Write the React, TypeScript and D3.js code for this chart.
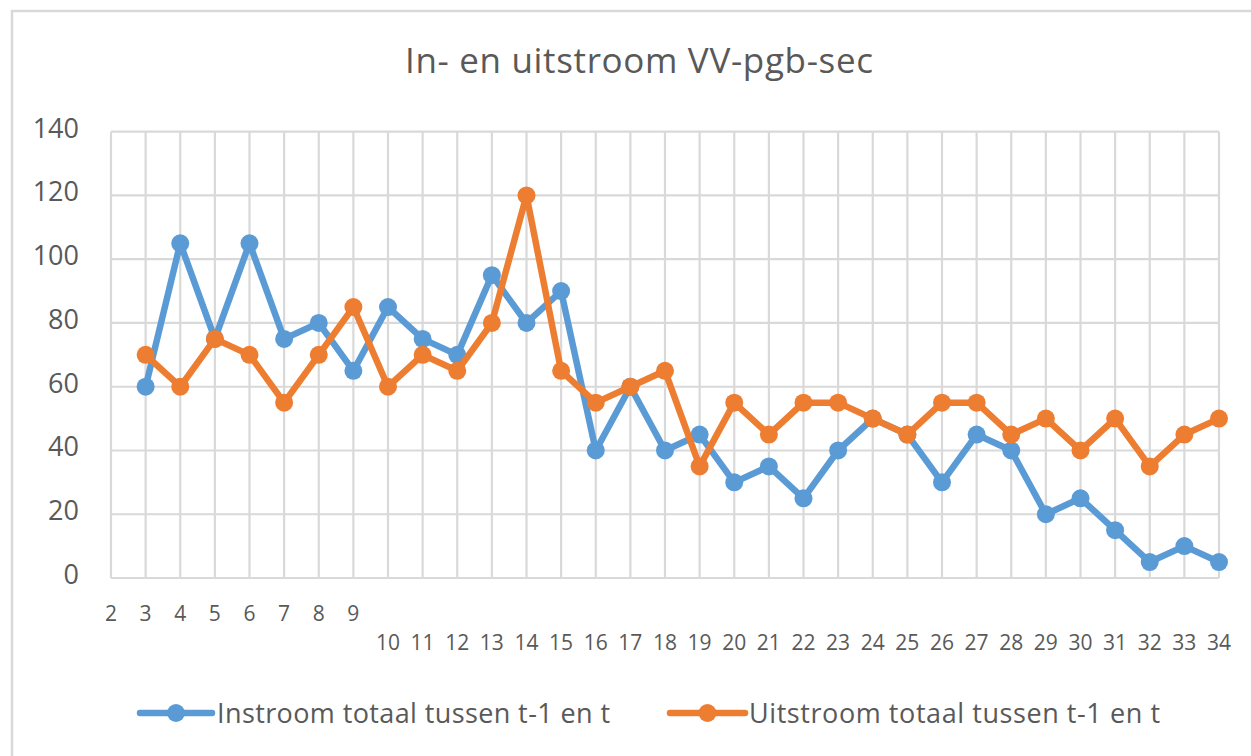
import React, { useEffect, useRef } from 'react';
import * as d3 from 'd3';

// category labels on the x axis (weeks)
const categories = [
  '2', '3', '4', '5', '6', '7', '8', '9', '10', '11', '12', '13', '14', '15', '16', '17', '18',
  '19', '20', '21', '22', '23', '24', '25', '26', '27', '28', '29', '30', '31', '32', '33', '34',
];

// week 2 has no value
const instroom: (number | null)[] = [
  null, 60, 105, 75, 105, 75, 80, 65, 85, 75, 70, 95, 80, 90, 40, 60, 40,
  45, 30, 35, 25, 40, 50, 45, 30, 45, 40, 20, 25, 15, 5, 10, 5,
];

const uitstroom: (number | null)[] = [
  null, 70, 60, 75, 70, 55, 70, 85, 60, 70, 65, 80, 120, 65, 55, 60, 65,
  35, 55, 45, 55, 55, 50, 45, 55, 55, 45, 50, 40, 50, 35, 45, 50,
];

const yTicks = [0, 20, 40, 60, 80, 100, 120, 140];

const seriesNames = ['Instroom totaal tussen t-1 en t', 'Uitstroom totaal tussen t-1 en t'];
const seriesColors = ['#5B9BD5', '#ED7D31'];

const title = 'In- en uitstroom VV-pgb-sec';

const W = 1251;
const H = 756;

const App: React.FC = () => {
  const ref = useRef<SVGSVGElement>(null);

  useEffect(() => {
    const svg = d3.select(ref.current);
    svg.selectAll('*').remove();

    const font = "'Open Sans', sans-serif";
    const textColor = '#595959';
    const gridColor = '#D9D9D9';

    const x = d3.scalePoint<string>().domain(categories).range([111, 1219]);
    const y = d3.scaleLinear().domain([0, 140]).range([578, 131.7]);

    svg.append('rect').attr('width', W).attr('height', H).attr('fill', '#fff');

    // chart border
    svg
      .append('rect')
      .attr('x', 12)
      .attr('y', 11)
      .attr('width', 1260)
      .attr('height', 770)
      .attr('fill', 'none')
      .attr('stroke', gridColor)
      .attr('stroke-width', 2.5);

    // title
    svg
      .append('text')
      .attr('x', 639)
      .attr('y', 73)
      .attr('text-anchor', 'middle')
      .attr('font-family', font)
      .attr('font-size', 35)
      .attr('fill', textColor)
      .attr('textLength', 468)
      .text(title);

    // gridlines
    const grid = svg.append('g').attr('stroke', gridColor).attr('stroke-width', 2.2);
    yTicks.forEach(t => {
      grid.append('line').attr('x1', 111).attr('x2', 1219).attr('y1', y(t)).attr('y2', y(t));
    });
    categories.forEach(c => {
      grid.append('line').attr('x1', x(c)!).attr('x2', x(c)!).attr('y1', y(0)).attr('y2', y(140));
    });

    // y labels
    svg
      .append('g')
      .selectAll('text')
      .data(yTicks)
      .join('text')
      .attr('x', 79)
      .attr('y', d => y(d) + 6)
      .attr('text-anchor', 'end')
      .attr('font-family', font)
      .attr('font-size', 27)
      .attr('fill', textColor)
      .text(d => d);

    // x labels: single digit labels on the first row, the rest wrap to a second row
    svg
      .append('g')
      .selectAll('text')
      .data(categories)
      .join('text')
      .attr('x', d => x(d)!)
      .attr('y', d => (d.length > 1 ? 650 : 621))
      .attr('text-anchor', 'middle')
      .attr('font-family', font)
      .attr('font-size', 21)
      .attr('fill', textColor)
      .text(d => d);

    // series
    const line = d3
      .line<number | null>()
      .defined(d => d != null)
      .x((_, i) => x(categories[i])!)
      .y(d => y(d as number));

    [instroom, uitstroom].forEach((values, s) => {
      const g = svg.append('g');
      g.append('path')
        .datum(values)
        .attr('fill', 'none')
        .attr('stroke', seriesColors[s])
        .attr('stroke-width', 6.5)
        .attr('stroke-linejoin', 'round')
        .attr('stroke-linecap', 'round')
        .attr('d', line);
      g.selectAll('circle')
        .data(values.map((v, i) => ({ v, c: categories[i] })).filter(d => d.v != null))
        .join('circle')
        .attr('cx', d => x(d.c)!)
        .attr('cy', d => y(d.v as number))
        .attr('r', 9)
        .attr('fill', seriesColors[s]);
    });

    // legend
    const legend = [
      { x1: 140, x2: 212, tx: 217, tl: 393 },
      { x1: 670, x2: 745, tx: 749, tl: 411 },
    ];
    legend.forEach((l, s) => {
      const g = svg.append('g');
      g.append('line')
        .attr('x1', l.x1)
        .attr('x2', l.x2)
        .attr('y1', 713)
        .attr('y2', 713)
        .attr('stroke', seriesColors[s])
        .attr('stroke-width', 6.5)
        .attr('stroke-linecap', 'round');
      g.append('circle')
        .attr('cx', (l.x1 + l.x2) / 2)
        .attr('cy', 713)
        .attr('r', 9)
        .attr('fill', seriesColors[s]);
      g.append('text')
        .attr('x', l.tx)
        .attr('y', 723)
        .attr('font-family', font)
        .attr('font-size', 27)
        .attr('fill', textColor)
        .attr('textLength', l.tl)
        .text(seriesNames[s]);
    });
  }, []);

  return (
    <div style={{ position: 'absolute', left: 0, top: 0 }}>
      <svg ref={ref} width={W} height={H} style={{ display: 'block' }} />
    </div>
  );
};

export default App;
